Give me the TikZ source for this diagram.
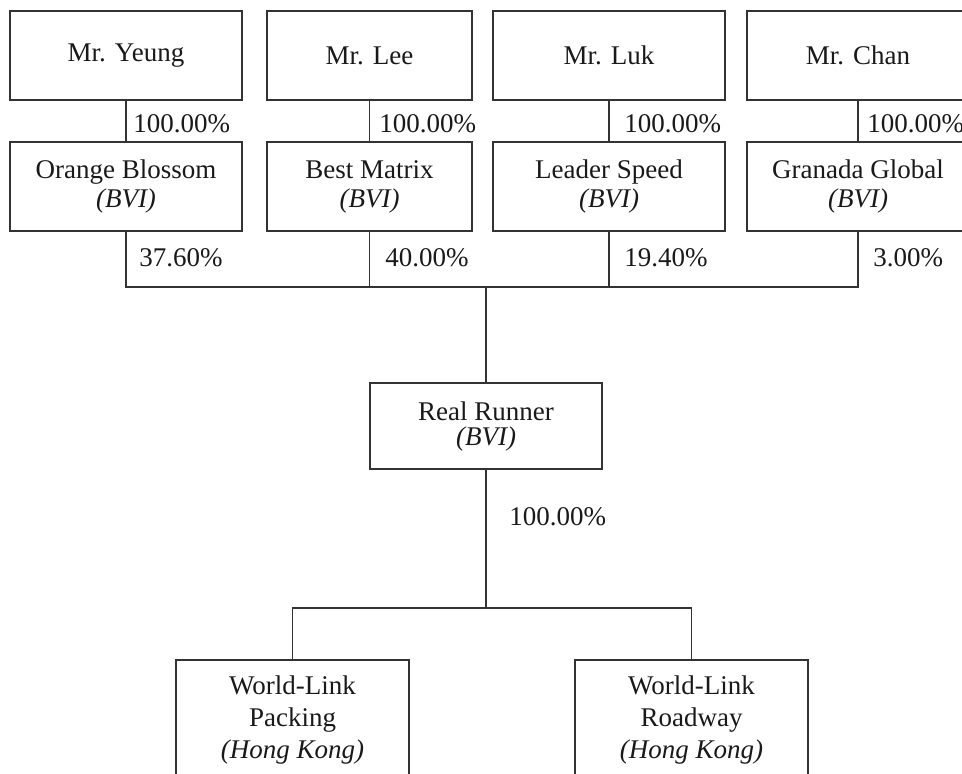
\documentclass[tikz,border=0pt]{standalone}
\usepackage{fontspec}
\setmainfont{Liberation Serif}
\usetikzlibrary{calc}

\begin{document}
\begin{tikzpicture}[x=0.5pt, y=-0.5pt,
		link/.style={draw=black!80, line width=0.75pt},
		firm/.style={link, align=center, inner sep=0pt, text=black!90, font=\fontsize{13.5}{14.5}\selectfont},
		pct/.style={anchor=west, inner sep=0pt, text=black!90, font=\fontsize{13.5}{14.5}\selectfont}]
		%%%%% START %%%%%
		
		\clip (0, 0) rectangle (962, 773);
		
		% owners
		\node[firm, minimum width=116pt, minimum height=44.5pt] (yeung) at (126, 55.5) {Mr. Yeung};
		\node[firm, minimum width=102.5pt, minimum height=44.5pt] (lee) at (369.5, 55.5) {Mr. Lee};
		\node[firm, minimum width=116pt, minimum height=44.5pt] (luk) at (609, 55.5) {Mr. Luk};
		\node[firm, minimum width=111pt, minimum height=44.5pt] (chan) at (858, 55.5) {Mr. Chan};
		
		% holding companies
		\node[firm, minimum width=116pt, minimum height=44.5pt] (orange) at (126, 186.5) {Orange Blossom\\\textit{(BVI)}};
		\node[firm, minimum width=102.5pt, minimum height=44.5pt] (bestm) at (369.5, 186.5) {Best Matrix\\\textit{(BVI)}};
		\node[firm, minimum width=116pt, minimum height=44.5pt] (leader) at (609, 186.5) {Leader Speed\\\textit{(BVI)}};
		\node[firm, minimum width=111pt, minimum height=44.5pt] (granada) at (858, 186.5) {Granada Global\\\textit{(BVI)}};
		
		\draw[link] (yeung) -- (orange);
		\draw[link] (lee) -- (bestm);
		\draw[link] (luk) -- (leader);
		\draw[link] (chan) -- (granada);
		
		\node[pct] (p1) at (133, 124) {100.00\%};
		\node[pct] (p2) at (379, 124) {100.00\%};
		\node[pct] (p3) at (624, 124) {100.00\%};
		\node[pct] (p4) at (867, 124) {100.00\%};
		
		% to Real Runner
		\coordinate (hub) at (486, 287);
		\draw[link] (orange.south) |- (hub) -| (granada.south);
		\draw[link] (bestm.south) -- (bestm.south |- hub);
		\draw[link] (leader.south) -- (leader.south |- hub);
		
		\node[pct] (q1) at (139, 258) {37.60\%};
		\node[pct] (q2) at (385, 258) {40.00\%};
		\node[pct] (q3) at (624, 258) {19.40\%};
		\node[pct] (q4) at (873, 258) {3.00\%};
		
		\node[firm, font=\fontsize{13.5}{12.5}\selectfont, minimum width=116pt, minimum height=43pt] (runner) at (486, 426) {Real Runner\\\textit{(BVI)}};
		\draw[link] (hub) -- (runner);
		
		\node[pct] (r1) at (509, 517) {100.00\%};
		
		% subsidiaries
		\node[firm, font=\fontsize{13.5}{16}\selectfont, minimum width=116.5pt, minimum height=60pt] (packing) at (292.5, 720) {World-Link\\Packing\\\textit{(Hong Kong)}};
		\node[firm, font=\fontsize{13.5}{16}\selectfont, minimum width=116.5pt, minimum height=60pt] (roadway) at (691.5, 720) {World-Link\\Roadway\\\textit{(Hong Kong)}};
		
		\coordinate (fork) at (486, 608);
		\draw[link] (runner) -- (fork);
		\draw[link] (packing.north) |- (fork) -| (roadway.north);
		
		%%%%% END %%%%%
	\end{tikzpicture}
\end{document}
